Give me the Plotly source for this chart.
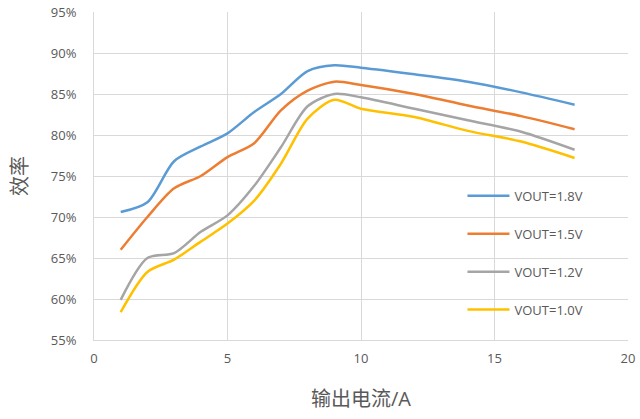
import plotly.graph_objects as go

current = [1, 2, 3, 4, 5, 6, 7, 8, 9, 10, 12, 14, 16, 18]
eff_18 = [70.6, 71.8, 76.8, 78.6, 80.2, 82.8, 85.0, 87.8, 88.5, 88.2, 87.4, 86.5, 85.2, 83.7]
eff_15 = [66.0, 70.0, 73.5, 75.0, 77.3, 79.0, 83.0, 85.4, 86.5, 86.1, 85.0, 83.6, 82.3, 80.7]
eff_12 = [59.9, 65.0, 65.6, 68.2, 70.2, 73.8, 78.5, 83.5, 85.0, 84.6, 83.2, 81.8, 80.4, 78.2]
eff_10 = [58.4, 63.3, 64.8, 67.0, 69.2, 72.0, 76.5, 82.0, 84.3, 83.2, 82.2, 80.5, 79.2, 77.2]

names = ["VOUT=1.8V", "VOUT=1.5V", "VOUT=1.2V", "VOUT=1.0V"]
colors = ["#5B9BD5", "#ED7D31", "#A5A5A5", "#FFC000"]
series = [eff_18, eff_15, eff_12, eff_10]

y_ticks = [55, 60, 65, 70, 75, 80, 85, 90, 95]
y_tick_labels = [f"{v}%" for v in y_ticks]
x_ticks = [0, 5, 10, 15, 20]

fig = go.Figure()
for i, (n, c, s) in enumerate(zip(names, colors, series)):
    fig.add_trace(go.Scatter(
        x=current, y=s, name=n, mode="lines",
        line=dict(color=c, width=2.5, shape="spline", smoothing=0.8),
        legendgroup=f"g{i}",
    ))

font_fam = "Open Sans, Noto Sans CJK SC, sans-serif"
fig.update_layout(
    width=640, height=419,
    margin=dict(l=94, r=12, t=12, b=79, autoexpand=False),
    paper_bgcolor="white", plot_bgcolor="white",
    font=dict(family=font_fam, color="#595959", size=13),
    showlegend=True,
    legend=dict(
        x=0.69, y=0.485, xanchor="left", yanchor="top",
        bgcolor="rgba(255,255,255,0)",
        font=dict(size=13, color="#595959"),
        tracegroupgap=18,
        itemwidth=42,
    ),
    xaxis=dict(
        range=[0, 20], tickvals=x_ticks, showgrid=True, gridcolor="#D9D9D9",
        gridwidth=1, zeroline=False, showline=True, linecolor="#D9D9D9",
        ticks="", mirror=False, automargin=False, ticklabelstandoff=6,
        ticklabeloverflow="allow",
        title=dict(text="输出电流/A", font=dict(size=20, color="#595959"), standoff=26),
    ),
    yaxis=dict(
        range=[55, 95], tickvals=y_ticks, ticktext=y_tick_labels,
        showgrid=True, gridcolor="#D9D9D9", gridwidth=1, zeroline=False,
        showline=True, linecolor="#D9D9D9", ticks="", automargin=False,
        ticklabelstandoff=14, ticklabeloverflow="allow",
        title=dict(text="效率", font=dict(size=20, color="#595959"), standoff=17),
    ),
)

fig.write_html(
    "out.html",
    config={"displayModeBar": False},
    post_script="document.body.style.margin='0';document.body.style.padding='0';",
)
